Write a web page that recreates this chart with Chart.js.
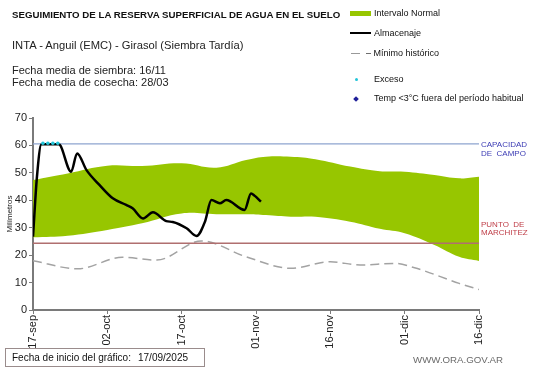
<!DOCTYPE html>
<html>
<head>
<meta charset="utf-8">
<script src="https://cdn.jsdelivr.net/npm/chart.js@4.4.1/dist/chart.umd.min.js"></script>
<style>
  body { margin: 0; background: #fff; font-family: "Liberation Sans", Arial, sans-serif; }
  #wrap { position: relative; width: 541px; height: 368px; overflow: hidden; background: #fff; }
  #grafico { position: absolute; left: 0; top: 0; }
  .t { position: absolute; white-space: nowrap; color: #111; line-height: 1; }
  .marca { position: absolute; }
</style>
</head>
<body>
<div id="wrap">
  <canvas id="grafico" width="541" height="368"></canvas>

  <div class="t" style="left:12px;top:10px;font-size:9.7px;font-weight:bold;">SEGUIMIENTO DE LA RESERVA SUPERFICIAL DE AGUA EN EL SUELO</div>
  <div class="t" style="left:12px;top:40px;font-size:11.2px;color:#222;">INTA - Anguil (EMC) - Girasol (Siembra Tardía)</div>
  <div class="t" style="left:12px;top:65px;font-size:11px;color:#222;">Fecha media de siembra: 16/11</div>
  <div class="t" style="left:12px;top:77px;font-size:11px;color:#222;">Fecha media de cosecha: 28/03</div>

  <!-- leyenda -->
  <div class="marca" style="left:350px;top:11px;width:21px;height:5px;background:#97c600;"></div>
  <div class="t" style="left:374px;top:9px;font-size:9px;">Intervalo Normal</div>
  <div class="marca" style="left:350px;top:32px;width:21px;height:2px;background:#000;"></div>
  <div class="t" style="left:374px;top:29px;font-size:9px;">Almacenaje</div>
  <div class="marca" style="left:351px;top:53px;width:9px;height:1px;background:#999;"></div>
  <div class="t" style="left:366px;top:49px;font-size:9px;">– Mínimo histórico</div>
  <div class="marca" style="left:355px;top:78px;width:3px;height:3px;border-radius:50%;background:#22c4d8;"></div>
  <div class="t" style="left:374px;top:75px;font-size:9px;">Exceso</div>
  <div class="marca" style="left:354px;top:97px;width:4px;height:4px;transform:rotate(45deg);background:#1f1f99;"></div>
  <div class="t" style="left:374px;top:94px;font-size:9px;">Temp &lt;3°C fuera del período habitual</div>

  <!-- pie -->
  <div class="marca" style="left:5px;top:348px;width:200px;height:19px;border:1px solid #9a8c8c;box-sizing:border-box;"></div>
  <div class="t" style="left:12px;top:353px;font-size:10px;color:#111;">Fecha de inicio del gráfico:</div>
  <div class="t" style="left:138px;top:353px;font-size:10px;color:#111;">17/09/2025</div>
  <div class="t" style="left:413px;top:355px;font-size:9.7px;color:#6a6a6a;">WWW.ORA.GOV.AR</div>
</div>

<script>
// --- DATOS (días desde el 17-sep) ---
const etiquetasX = ['17-sep', '02-oct', '17-oct', '01-nov', '16-nov', '01-dic', '16-dic'];

const diasBanda = [0, 7, 15, 22, 30, 37, 43, 47, 52, 57, 64, 70, 75, 81, 86, 90];
const bandaSuperior = [47.4, 49.8, 52.6, 52.5, 53.5, 51.9, 54.7, 55.9, 55.9, 55.0, 52.3, 50.6, 50.4, 49.2, 48.0, 48.6];
const bandaInferior = [26.5, 27.1, 29.2, 31.6, 35.2, 34.9, 34.9, 34.6, 34.0, 34.0, 32.2, 29.6, 28.0, 23.7, 19.4, 17.9];

const diasMinimo = [0, 9, 18, 25, 34, 43, 52, 60, 66, 73, 77, 86, 90];
const minimoHistorico = [18.0, 15.0, 19.2, 18.2, 25.2, 19.4, 15.2, 17.6, 16.4, 17.0, 15.4, 9.7, 7.5];

const diasAlmacenaje = [0, 0.8, 1.7, 5.2, 7.7, 8.9, 10.8, 13.4, 16.1, 18.8, 20.1, 22.2, 24.2, 26.9, 28.2, 31, 33, 34.7, 36, 37.7, 39, 42.7, 44, 44.7, 46];
const almacenaje = [26.7, 48.6, 60.4, 60.4, 50.4, 57.1, 51.0, 45.6, 40.7, 38.3, 37.1, 33.4, 35.6, 32.4, 32.1, 29.8, 27.0, 32.2, 40.1, 38.9, 40.1, 36.5, 42.5, 41.7, 39.5];

const diasExceso = [2, 3, 4, 5];
const exceso = [60.8, 60.8, 60.8, 60.8];

const capacidadCampo = 60.6;
const puntoMarchitez = 24.3;

const pares = (xs, ys) => xs.map((x, i) => ({ x: x, y: ys[i] }));
const recta = (v) => [{ x: 0, y: v }, { x: 90, y: v }];

// Textos a la derecha de las líneas horizontales
const etiquetasDerecha = {
    id: 'etiquetasDerecha',
    afterDraw(chart) {
        const { ctx, chartArea, scales } = chart;
        const x = chartArea.right + 2;
        ctx.save();
        ctx.font = '8px "Liberation Sans", Arial, sans-serif';
        ctx.textBaseline = 'middle';
        let y = scales.y.getPixelForValue(capacidadCampo);
        ctx.fillStyle = '#3c3cb4';
        ctx.fillText('CAPACIDAD', x, y + 1.5);
        ctx.fillText('DE  CAMPO', x, y + 10.5);
        y = scales.y.getPixelForValue(puntoMarchitez);
        ctx.fillStyle = '#c0404a';
        ctx.fillText('PUNTO  DE', x, y - 19);
        ctx.fillText('MARCHITEZ', x, y - 11);
        ctx.restore();
    }
};

const fuente = { family: '"Liberation Sans", Arial, sans-serif', size: 11 };

new Chart(document.getElementById('grafico'), {
    type: 'line',
    data: {
        datasets: [
            {   // 0 - almacenaje
                data: pares(diasAlmacenaje, almacenaje),
                borderColor: '#000', borderWidth: 2.5, pointRadius: 0,
                cubicInterpolationMode: 'monotone', fill: false, order: 1
            },
            {   // 1 - exceso
                data: pares(diasExceso, exceso),
                showLine: false, pointRadius: 1.8, pointBorderWidth: 0,
                pointBackgroundColor: '#22c4d8', order: 0
            },
            {   // 2 - mínimo histórico
                data: pares(diasMinimo, minimoHistorico),
                borderColor: '#a3a3a3', borderWidth: 1.5, borderDash: [9, 5],
                pointRadius: 0, cubicInterpolationMode: 'monotone', fill: false, order: 3
            },
            {   // 3 - capacidad de campo
                data: recta(capacidadCampo),
                borderColor: '#8ea4cf', borderWidth: 1.2, pointRadius: 0, fill: false, order: 4
            },
            {   // 4 - punto de marchitez
                data: recta(puntoMarchitez),
                borderColor: '#b06f6f', borderWidth: 1.5, pointRadius: 0, fill: false, order: 2
            },
            {   // 5 - banda inferior
                data: pares(diasBanda, bandaInferior),
                borderWidth: 0, pointRadius: 0, tension: 0.4, fill: false, order: 10
            },
            {   // 6 - banda superior (relleno hasta la inferior)
                data: pares(diasBanda, bandaSuperior),
                borderWidth: 0, pointRadius: 0, tension: 0.4,
                fill: { target: 5 }, backgroundColor: '#97c600', order: 11
            }
        ]
    },
    options: {
        responsive: false,
        animation: false,
        layout: { padding: { top: 118, right: 62, left: 0, bottom: 0 } },
        plugins: {
            legend: { display: false },
            tooltip: { enabled: false },
            filler: { propagate: false }
        },
        scales: {
            x: {
                type: 'linear', min: 0, max: 90,
                afterFit: (s) => { s.height = 58; },
                grid: { drawOnChartArea: false, drawTicks: true, tickLength: 4, color: '#7a7a7a', lineWidth: 1 },
                border: { color: '#7a7a7a', width: 2 },
                ticks: {
                    stepSize: 15, autoSkip: false, minRotation: 90, maxRotation: 90,
                    padding: 1, color: '#222', font: fuente,
                    callback: (v) => etiquetasX[v / 15]
                }
            },
            y: {
                min: 0, max: 70,
                afterFit: (s) => { s.width = 33; },
                grid: { drawOnChartArea: false, drawTicks: true, tickLength: 4, color: '#7a7a7a', lineWidth: 1 },
                border: { color: '#7a7a7a', width: 2 },
                ticks: { stepSize: 10, padding: 2, color: '#222', font: fuente },
                title: {
                    display: true, text: 'Milímetros', color: '#222',
                    font: { family: '"Liberation Sans", Arial, sans-serif', size: 8 },
                    padding: { top: 5, bottom: 0 }
                }
            }
        }
    },
    plugins: [etiquetasDerecha]
});
</script>
</body>
</html>
